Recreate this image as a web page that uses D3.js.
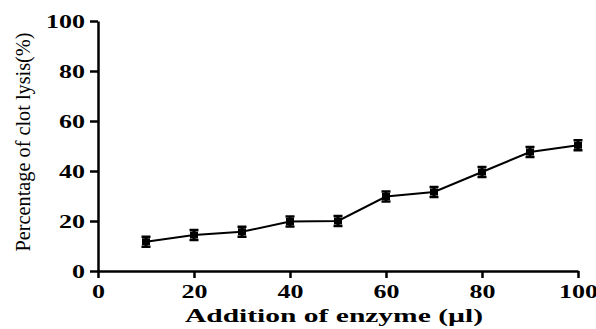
<!DOCTYPE html>
<html>
<head>
<meta charset="utf-8">
<script src="https://cdn.jsdelivr.net/npm/d3@7"></script>
<style>
  body { margin: 0; background: #fff; }
  svg { display: block; }
</style>
</head>
<body>
<div id="chart"></div>
<script>
// data
const enzyme = [10, 20, 30, 40, 50, 60, 70, 80, 90, 100];
const lysis = [11.7, 14.4, 15.7, 19.8, 20.0, 29.8, 31.6, 39.6, 47.6, 50.3];
const lysisErr = [2.0, 2.0, 2.0, 2.0, 2.0, 2.0, 2.0, 2.0, 2.0, 2.0];
const xTicks = [0, 20, 40, 60, 80, 100];
const yTicks = [0, 20, 40, 60, 80, 100];

const width = 596, height = 329;
const margin = { top: 21, right: 18, bottom: 58, left: 98 };
const serif = "'Liberation Serif', 'Times New Roman', Times, serif";
const digitW = 13; // the source picture is stretched sideways

const svg = d3.select("#chart").append("svg")
  .attr("width", width).attr("height", height);

const x = d3.scaleLinear().domain([0, 100]).range([margin.left, width - margin.right]);
const y = d3.scaleLinear().domain([0, 100]).range([height - margin.bottom, margin.top]);

// axes
const xAxis = d3.axisBottom(x).tickValues(xTicks).tickSize(7).tickSizeOuter(0);
const yAxis = d3.axisLeft(y).tickValues(yTicks).tickSize(8).tickSizeOuter(0);

const gx = svg.append("g")
  .attr("transform", `translate(0,${y(0)})`)
  .call(xAxis);
const gy = svg.append("g")
  .attr("transform", `translate(${x(0)},0)`)
  .call(yAxis);

[gx, gy].forEach(g => {
  g.attr("font-family", serif).attr("font-size", 19).attr("font-weight", "bold");
  g.select(".domain").attr("stroke", "#000").attr("stroke-width", 2.5);
  g.selectAll(".tick line").attr("stroke", "#000").attr("stroke-width", 2.5);
  g.selectAll(".tick text")
    .attr("fill", "#000")
    .attr("textLength", d => String(d).length * digitW)
    .attr("lengthAdjust", "spacingAndGlyphs");
});
gx.selectAll(".tick text").attr("y", 27).attr("dy", null);
gy.selectAll(".tick text").attr("x", -13).attr("dy", "0.35em");

// line
const line = d3.line()
  .x((d, i) => x(enzyme[i]))
  .y(d => y(d));

svg.append("path")
  .datum(lysis)
  .attr("fill", "none")
  .attr("stroke", "#000")
  .attr("stroke-width", 2)
  .attr("d", line);

// error bars
const eb = svg.append("g").selectAll("g")
  .data(lysis)
  .enter().append("g");

eb.append("line")
  .attr("x1", (d, i) => x(enzyme[i]))
  .attr("x2", (d, i) => x(enzyme[i]))
  .attr("y1", (d, i) => y(d - lysisErr[i]))
  .attr("y2", (d, i) => y(d + lysisErr[i]))
  .attr("stroke", "#000").attr("stroke-width", 3);

["-", "+"].forEach(s => {
  eb.append("line")
    .attr("x1", (d, i) => x(enzyme[i]) - 4.5)
    .attr("x2", (d, i) => x(enzyme[i]) + 4.5)
    .attr("y1", (d, i) => y(s === "-" ? d - lysisErr[i] : d + lysisErr[i]))
    .attr("y2", (d, i) => y(s === "-" ? d - lysisErr[i] : d + lysisErr[i]))
    .attr("stroke", "#000").attr("stroke-width", 2.5);
});

// markers
eb.append("rect")
  .attr("x", (d, i) => x(enzyme[i]) - 4)
  .attr("y", d => y(d) - 3.5)
  .attr("width", 8)
  .attr("height", 7)
  .attr("fill", "#000");

// titles
svg.append("text")
  .attr("x", 334)
  .attr("y", 322)
  .attr("text-anchor", "middle")
  .attr("font-family", serif)
  .attr("font-size", 19)
  .attr("font-weight", "bold")
  .attr("fill", "#000")
  .attr("textLength", 298)
  .attr("lengthAdjust", "spacingAndGlyphs")
  .text("Addition of enzyme (µl)");

svg.append("text")
  .attr("transform", "translate(30,142) rotate(-90)")
  .attr("text-anchor", "middle")
  .attr("font-family", serif)
  .attr("font-size", 20)
  .attr("fill", "#000")
  .attr("textLength", 219)
  .attr("lengthAdjust", "spacingAndGlyphs")
  .text("Percentage of clot lysis(%)");
</script>
</body>
</html>
